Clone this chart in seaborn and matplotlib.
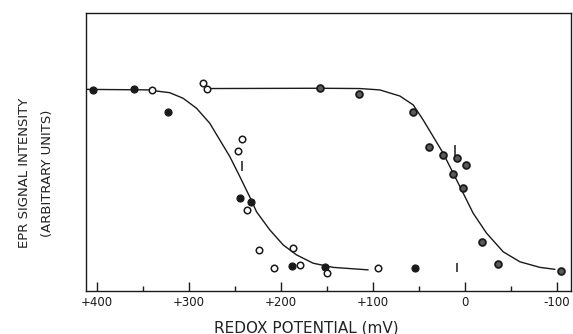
import matplotlib
matplotlib.use("Agg")
import matplotlib.pyplot as plt
import seaborn as sns
import pandas as pd
from matplotlib.ticker import FixedLocator

# ---- data ----
# redox potential in mV, signal in arbitrary units
filled_x = [404, 360, 323, 245, 233, 188, 152, 54]
filled_y = [72.3, 72.6, 64.5, 33.3, 32.0, 9.0, 8.6, 8.0]

open_x = [340, 285, 280, 242, 247, 237, 224, 187, 208, 179, 150, 94]
open_y = [72.3, 74.7, 72.5, 54.5, 50.3, 29.1, 14.7, 15.3, 8.3, 9.3, 6.5, 8.3]

half_x = [158, 115, 56, 39, 23.5, 8.3, -1.2, 13.3, 2.4, -18.3, -35.7, -104.4]
half_y = [72.9, 70.8, 64.5, 51.9, 48.9, 47.7, 45.3, 42.0, 37.1, 17.4, 9.6, 7.1]

curve1_x = [412, 340.5, 335.4, 320.9, 306.4, 291.8, 277.4, 266.5, 255.6, 244.7,
            233.8, 226.5, 212.1, 197.6, 183.0, 165.0, 143.2, 105.1]
curve1_y = [72.5, 72.3, 71.9, 71.3, 69.3, 65.7, 60.3, 54.3, 48.3, 41.1,
            33.7, 28.4, 21.9, 16.5, 12.9, 9.9, 8.4, 7.5]

curve2_x = [277.4, 157.7, 114.3, 92.4, 70.6, 56.1, 45.3, 34.4, 23.5, 12.6,
            1.7, -9.1, -23.7, -41.8, -60.0, -81.7, -98.0]
curve2_y = [72.8, 72.9, 72.8, 72.3, 70.1, 66.9, 61.5, 55.5, 49.5, 42.3,
            35.1, 27.9, 20.7, 14.0, 10.4, 8.4, 7.7]

mark_x = [242.0, 10.8, 8.9]
mark_y0 = [43.0, 47.7, 6.6]
mark_y1 = [46.6, 52.4, 9.9]

major_ticks = [400, 300, 200, 100, 0, -100]
major_labels = ["+400", "+300", "+200", "+100", "0", "-100"]
minor_ticks = [350, 250, 150, 50, -50]

x_label = "REDOX POTENTIAL (mV)"
y_label = "EPR SIGNAL INTENSITY\n(ARBITRARY UNITS)"

# ---- plotting ----
sns.set_style("white")
plt.rcParams["font.family"] = ["DejaVu Sans"]

fig = plt.figure(figsize=(5.73, 3.34), dpi=100)
ax = fig.add_axes([86 / 573, 43.3 / 334, 485 / 573, 277.7 / 334])

ink = "#1a1a1a"

c1 = pd.DataFrame({"E": curve1_x, "S": curve1_y})
c2 = pd.DataFrame({"E": curve2_x, "S": curve2_y})
sns.lineplot(data=c1, x="E", y="S", sort=False, color=ink, lw=1.0, ax=ax, zorder=2)
sns.lineplot(data=c2, x="E", y="S", sort=False, color=ink, lw=1.0, ax=ax, zorder=2)

ax.vlines(mark_x, mark_y0, mark_y1, color=ink, lw=1.1, zorder=2)

df_f = pd.DataFrame({"E": filled_x, "S": filled_y})
df_o = pd.DataFrame({"E": open_x, "S": open_y})
df_h = pd.DataFrame({"E": half_x, "S": half_y})
sns.scatterplot(data=df_f, x="E", y="S", marker="o", s=26, color=ink,
                edgecolor=ink, linewidth=0.8, ax=ax, zorder=3)
sns.scatterplot(data=df_o, x="E", y="S", marker="o", s=22, facecolor="white",
                edgecolor=ink, linewidth=1.1, ax=ax, zorder=3)
sns.scatterplot(data=df_h, x="E", y="S", marker="o", s=24, facecolor="#5a5a5a",
                edgecolor=ink, linewidth=1.3, ax=ax, zorder=3)

ax.set_xlim(412, -115.5)
ax.set_ylim(0, 100)

ax.xaxis.set_major_locator(FixedLocator(major_ticks))
ax.xaxis.set_minor_locator(FixedLocator(minor_ticks))
ax.set_xticklabels(major_labels)
ax.set_yticks([])
ax.tick_params(axis="x", which="major", direction="in", length=6.5, width=1.0,
               colors=ink, labelsize=8.5, pad=4, bottom=True, top=False)
ax.tick_params(axis="x", which="minor", direction="in", length=3.5, width=1.0,
               colors=ink, bottom=True, top=False)

for sp in ax.spines.values():
    sp.set_visible(True)
    sp.set_linewidth(1.0)
    sp.set_color(ink)

ax.set_xlabel("")
ax.set_ylabel("")
fig.text(306.7 / 573, (334 - 328) / 334, x_label, ha="center", va="center",
         fontsize=11, color="#222222")
fig.text(36 / 573, (334 - 173) / 334, y_label, ha="center", va="center",
         rotation=90, fontsize=9.5, color="#222222", linespacing=2.0,
         multialignment="center")

fig.savefig("out.png", dpi=100)
